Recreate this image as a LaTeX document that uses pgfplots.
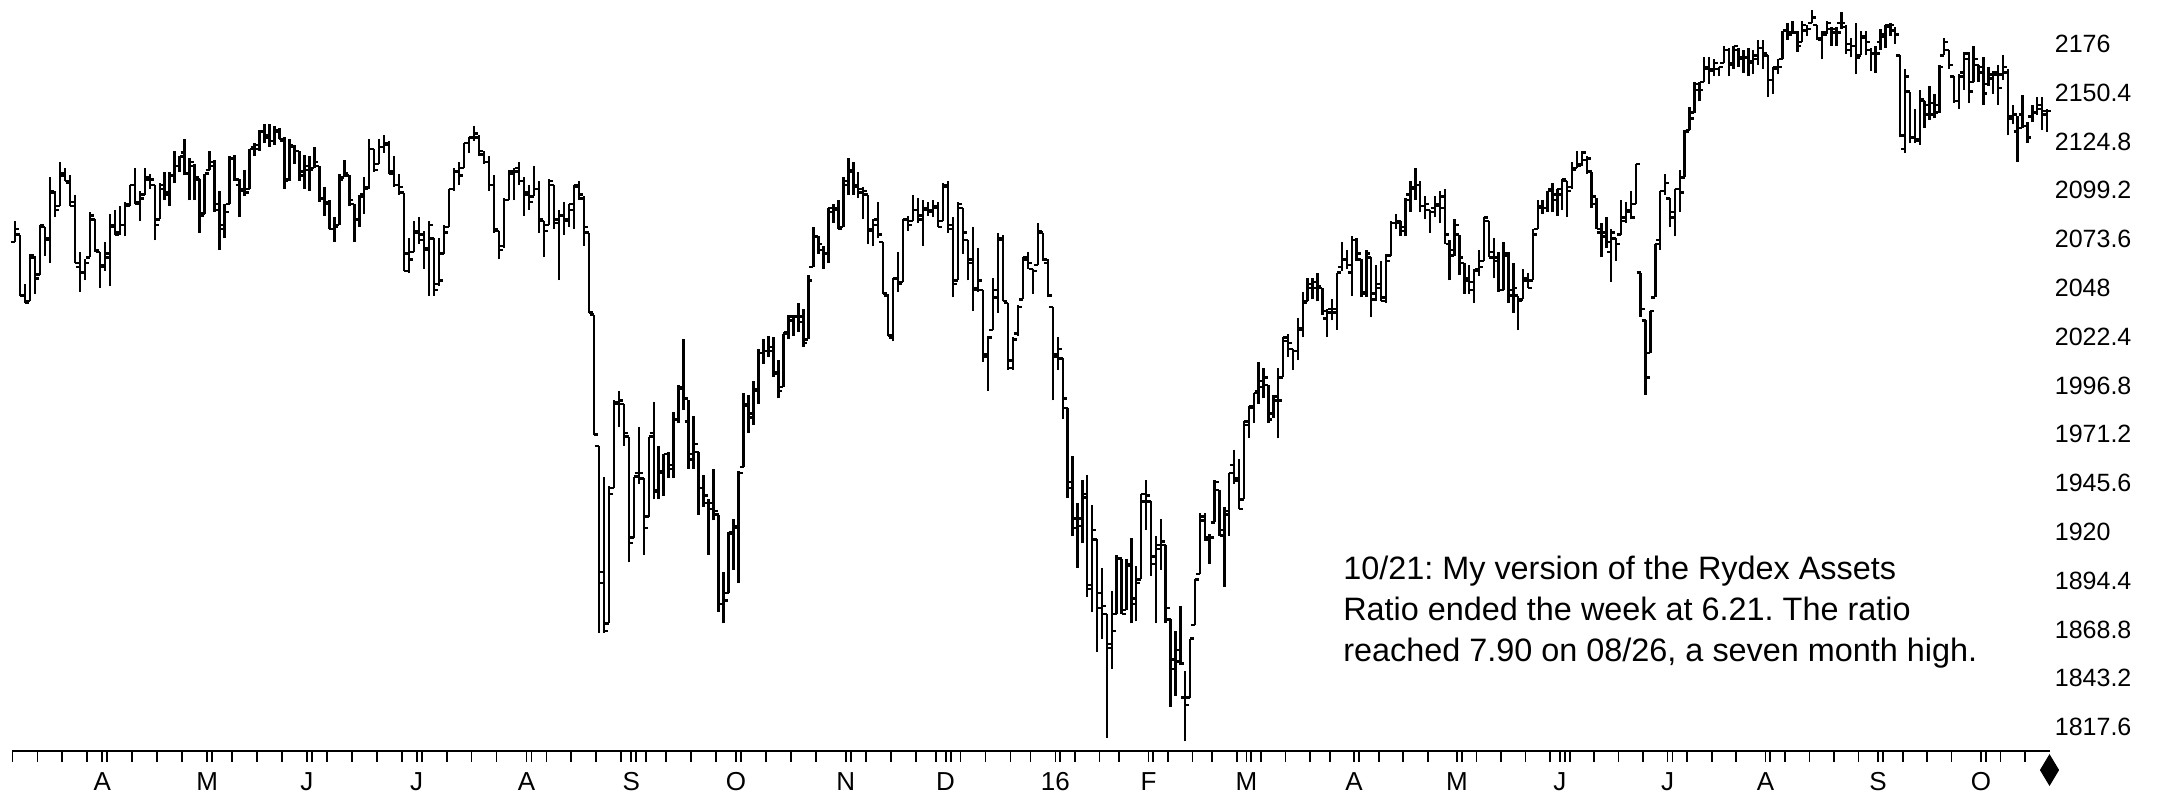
\documentclass[border=0pt]{standalone}
\usepackage{fontspec}
\setmainfont{Liberation Sans}
\usepackage{pgfplots}
\usepackage{pgfplotstable}
\pgfplotsset{compat=1.18}
\frenchspacing
\pgfdeclareplotmark{otick}{\pgfpathmoveto{\pgfqpoint{-2pt}{0pt}}\pgfpathlineto{\pgfqpoint{0pt}{0pt}}\pgfusepathqstroke}
\pgfdeclareplotmark{ctick}{\pgfpathmoveto{\pgfqpoint{0pt}{0pt}}\pgfpathlineto{\pgfqpoint{2pt}{0pt}}\pgfusepathqstroke}
\pgfdeclareplotmark{tdiam}{\pgfpathmoveto{\pgfqpoint{0pt}{7.5pt}}\pgfpathlineto{\pgfqpoint{4.5pt}{0pt}}\pgfpathlineto{\pgfqpoint{0pt}{-7.5pt}}\pgfpathlineto{\pgfqpoint{-4.5pt}{0pt}}\pgfpathclose\pgfusepathqfillstroke}
% S&P 500 daily bars, 2015-03-09 .. 2016-10-21 : open high low close
\pgfplotstableread{
o h l c
2072 2083 2072 2079
2076 2076 2044 2044
2044 2050 2040 2040
2041 2066 2041 2065
2064 2065 2045 2053
2055 2081 2055 2081
2080 2080 2065 2074
2073 2106 2061 2099
2098 2099 2085 2089
2091 2114 2091 2108
2107 2111 2104 2104
2103 2107 2091 2091
2093 2097 2061 2061
2059 2067 2046 2056
2056 2063 2052 2061
2064 2088 2064 2086
2084 2084 2067 2068
2067 2067 2048 2059
2060 2072 2057 2066
2064 2087 2049 2080
2081 2089 2076 2076
2077 2091 2076 2081
2081 2093 2075 2092
2091 2102 2091 2102
2102 2111 2092 2092
2093 2099 2083 2095
2097 2111 2097 2106
2105 2108 2100 2105
2102 2102 2073 2081
2084 2103 2084 2100
2102 2109 2094 2097
2098 2109 2091 2107
2107 2120 2103 2112
2112 2117 2109 2117
2119 2126 2107 2108
2108 2116 2094 2114
2112 2113 2094 2106
2105 2105 2077 2086
2087 2108 2087 2108
2110 2120 2110 2114
2112 2115 2088 2089
2092 2099 2068 2081
2079 2092 2074 2088
2092 2117 2092 2116
2116 2118 2104 2105
2102 2105 2085 2099
2100 2110 2096 2098
2100 2121 2100 2121
2122 2124 2117 2123
2121 2131 2120 2130
2130 2134 2124 2127
2128 2134 2122 2125
2125 2133 2123 2131
2130 2132 2126 2126
2125 2127 2100 2104
2105 2126 2104 2123
2122 2123 2113 2120
2120 2120 2104 2107
2109 2118 2100 2112
2110 2117 2099 2110
2111 2122 2111 2114
2112 2112 2093 2095
2095 2101 2086 2092
2093 2094 2079 2079
2079 2085 2072 2080
2081 2108 2081 2105
2106 2115 2106 2108
2107 2107 2091 2094
2092 2092 2072 2084
2084 2097 2080 2096
2097 2106 2087 2100
2101 2126 2100 2121
2121 2121 2109 2110
2113 2126 2113 2122
2122 2128 2119 2124
2123 2125 2108 2108
2109 2117 2101 2102
2102 2108 2097 2101
2098 2098 2057 2057
2066 2074 2056 2063
2067 2083 2067 2077
2078 2085 2071 2076
2073 2078 2058 2068
2069 2083 2044 2081
2074 2074 2044 2047
2050 2074 2049 2052
2066 2081 2066 2077
2080 2100 2080 2100
2100 2111 2099 2109
2109 2114 2102 2107
2111 2124 2111 2124
2124 2127 2119 2127
2127 2133 2125 2129
2127 2128 2117 2120
2118 2120 2113 2114
2114 2117 2099 2102
2102 2107 2077 2079
2078 2078 2063 2068
2070 2095 2069 2094
2094 2110 2094 2109
2108 2111 2094 2109
2111 2114 2102 2104
2104 2106 2086 2098
2097 2102 2089 2093
2096 2112 2096 2100
2100 2104 2077 2084
2083 2083 2064 2078
2081 2105 2081 2104
2102 2102 2079 2084
2082 2089 2052 2086
2086 2093 2076 2084
2083 2092 2080 2092
2089 2102 2079 2102
2101 2104 2094 2097
2095 2096 2070 2080
2077 2077 2035 2035
2034 2034 1971 1971
1965 1965 1867 1893
1899 1949 1867 1868
1872 1944 1872 1940
1943 1989 1943 1988
1987 1994 1975 1989
1987 1987 1965 1972
1970 1970 1904 1914
1917 1949 1917 1949
1951 1975 1945 1951
1948 1948 1908 1922
1928 1970 1928 1970
1972 1988 1937 1942
1941 1965 1937 1952
1951 1961 1939 1961
1961 1962 1948 1953
1955 1983 1948 1979
1979 1997 1977 1996
1995 2021 1984 1990
1978 1989 1953 1958
1961 1981 1953 1966
1962 1962 1929 1943
1943 1950 1933 1939
1935 1937 1908 1932
1935 1953 1926 1931
1929 1929 1878 1882
1882 1899 1872 1884
1888 1920 1888 1920
1919 1927 1900 1923
1922 1952 1893 1951
1954 1993 1954 1987
1986 1992 1972 1980
1982 1999 1976 1995
1994 2016 1987 2014
2014 2021 2008 2015
2015 2023 2012 2017
2015 2022 2001 2003
2004 2010 1990 1994
1996 2024 1996 2024
2025 2034 2021 2033
2031 2034 2023 2033
2033 2040 2025 2030
2033 2037 2017 2019
2021 2055 2021 2052
2059 2080 2059 2075
2075 2075 2066 2071
2068 2070 2058 2066
2066 2090 2061 2090
2088 2092 2082 2089
2090 2094 2079 2079
2080 2106 2080 2104
2102 2116 2097 2109
2110 2114 2097 2102
2101 2109 2095 2100
2098 2101 2084 2099
2097 2097 2071 2079
2078 2084 2070 2081
2084 2093 2074 2076
2072 2072 2045 2045
2044 2045 2023 2023
2022 2053 2020 2053
2053 2067 2046 2050
2051 2084 2051 2084
2084 2086 2078 2081
2083 2097 2083 2089
2089 2095 2082 2086
2084 2094 2070 2089
2090 2093 2086 2088
2089 2094 2085 2090
2091 2093 2080 2080
2083 2103 2083 2102
2101 2104 2077 2079
2081 2085 2043 2050
2052 2093 2052 2092
2090 2090 2066 2077
2073 2073 2052 2063
2061 2080 2036 2047
2048 2069 2046 2052
2047 2047 2009 2012
2013 2023 1994 2022
2026 2053 2026 2043
2047 2077 2035 2073
2074 2076 2041 2041
2040 2040 2005 2006
2010 2022 2005 2021
2024 2039 2023 2038
2042 2064 2042 2064
2063 2067 2058 2061
2058 2058 2045 2057
2060 2082 2060 2078
2077 2077 2062 2063
2061 2063 2043 2044
2038 2038 1989 2012
2013 2022 2005 2016
2011 2011 1979 1990
1985 1985 1938 1943
1946 1960 1918 1922
1927 1935 1901 1923
1927 1947 1914 1938
1940 1950 1886 1890
1892 1934 1878 1921
1916 1916 1857 1880
1888 1901 1864 1881
1877 1877 1812 1859
1861 1889 1848 1868
1877 1908 1877 1906
1906 1906 1877 1877
1879 1906 1879 1903
1902 1917 1872 1882
1885 1902 1873 1893
1895 1940 1895 1940
1936 1947 1921 1939
1936 1936 1897 1903
1907 1918 1872 1913
1911 1927 1900 1915
1913 1913 1872 1880
1874 1874 1828 1853
1848 1868 1834 1852
1858 1881 1850 1851
1833 1847 1810 1829
1833 1864 1833 1864
1871 1895 1871 1895
1898 1930 1898 1926
1928 1930 1915 1917
1916 1919 1903 1917
1925 1947 1925 1946
1942 1942 1918 1921
1918 1933 1891 1929
1931 1951 1918 1951
1955 1963 1945 1948
1947 1958 1932 1932
1937 1978 1937 1978
1976 1986 1969 1986
1985 1993 1977 1993
1994 2009 1987 1999
1996 2006 1990 2001
1997 1997 1977 1979
1982 1992 1980 1989
1991 2006 1969 1989
2001 2022 2001 2022
2020 2024 2012 2019
2016 2016 2005 2015
2015 2032 2010 2027
2026 2046 2022 2040
2041 2053 2041 2050
2048 2053 2042 2051
2048 2056 2041 2049
2048 2048 2034 2036
2032 2037 2022 2035
2037 2042 2031 2037
2035 2056 2026 2056
2059 2072 2057 2063
2063 2068 2058 2060
2056 2075 2044 2073
2073 2074 2062 2066
2063 2063 2043 2045
2046 2068 2043 2066
2064 2064 2033 2042
2045 2060 2041 2048
2050 2062 2041 2041
2043 2066 2040 2062
2065 2083 2065 2082
2082 2087 2079 2082
2083 2083 2075 2080
2078 2095 2075 2094
2097 2104 2088 2101
2100 2111 2094 2102
2102 2104 2088 2091
2091 2096 2084 2092
2089 2089 2077 2088
2090 2096 2085 2091
2092 2099 2082 2096
2090 2100 2071 2076
2071 2073 2052 2065
2068 2084 2065 2081
2076 2076 2055 2064
2061 2061 2045 2052
2053 2060 2045 2051
2047 2058 2040 2057
2058 2068 2054 2059
2062 2085 2062 2085
2083 2083 2064 2064
2067 2074 2053 2064
2062 2067 2046 2047
2047 2072 2047 2066
2065 2067 2040 2047
2044 2061 2035 2048
2044 2044 2026 2041
2042 2058 2042 2052
2053 2056 2048 2048
2052 2079 2052 2076
2079 2094 2079 2090
2091 2094 2087 2090
2090 2099 2088 2099
2100 2103 2088 2097
2094 2100 2086 2100
2097 2105 2089 2105
2104 2104 2085 2099
2101 2114 2100 2110
2111 2120 2111 2112
2113 2120 2112 2119
2115 2117 2108 2116
2109 2109 2090 2096
2092 2095 2079 2079
2077 2082 2064 2075
2077 2085 2069 2072
2067 2079 2051 2077
2074 2074 2062 2071
2076 2094 2076 2083
2085 2093 2082 2088
2089 2099 2084 2085
2092 2113 2092 2113
2056 2056 2033 2037
2031 2031 1992 2001
2014 2036 2014 2036
2043 2071 2043 2071
2073 2099 2068 2099
2099 2108 2097 2103
2095 2095 2080 2088
2085 2100 2075 2100
2100 2110 2088 2098
2106 2131 2106 2130
2131 2143 2131 2137
2140 2156 2140 2152
2155 2156 2146 2152
2156 2169 2156 2163
2164 2169 2155 2162
2163 2168 2159 2166
2163 2164 2159 2164
2166 2175 2166 2173
2173 2174 2159 2165
2166 2175 2163 2175
2173 2174 2164 2169
2168 2173 2161 2169
2169 2174 2159 2167
2166 2173 2160 2170
2168 2178 2165 2174
2174 2178 2163 2171
2170 2170 2148 2157
2157 2164 2150 2164
2163 2168 2160 2164
2168 2183 2168 2183
2183 2187 2178 2181
2182 2188 2181 2182
2182 2183 2172 2175
2177 2188 2177 2186
2183 2186 2180 2184
2187 2194 2187 2190
2186 2186 2178 2179
2178 2183 2168 2182
2181 2188 2181 2187
2184 2185 2175 2184
2182 2185 2175 2182
2187 2193 2184 2187
2185 2186 2171 2176
2173 2179 2169 2175
2175 2187 2160 2169
2170 2183 2170 2180
2179 2183 2170 2177
2173 2174 2162 2171
2171 2175 2161 2171
2177 2184 2173 2180
2181 2186 2174 2186
2185 2187 2180 2186
2183 2185 2176 2181
2170 2170 2127 2128
2121 2163 2119 2159
2151 2151 2124 2127
2127 2142 2124 2126
2125 2152 2123 2147
2146 2146 2132 2139
2144 2154 2136 2139
2145 2150 2137 2140
2144 2165 2140 2164
2170 2179 2170 2177
2173 2173 2163 2165
2159 2159 2145 2146
2146 2160 2142 2159
2161 2172 2152 2171
2168 2172 2145 2151
2156 2175 2156 2168
2165 2165 2156 2161
2164 2169 2144 2150
2155 2164 2154 2160
2158 2162 2150 2160
2161 2165 2144 2153
2160 2170 2157 2164
2161 2163 2128 2137
2138 2144 2134 2139
2130 2138 2114 2132
2139 2149 2132 2133
2133 2135 2124 2127
2138 2144 2135 2140
2140 2148 2139 2144
2142 2148 2131 2141
2139 2142 2130 2141
}\spx
\begin{document}
\begin{tikzpicture}
\begin{axis}[name=ax, at={(0,0)}, anchor=south west,
  scale only axis, width=1018.75pt, height=375.5pt,
  x coord trafo/.code={\pgfmathparse{((#1)<208)?(15+4.99*(#1)):(1053+4.897*((#1)-208))}},
  x coord inv trafo/.code={\pgfmathparse{((#1)<1053)?(((#1)-15)/4.99):(208+((#1)-1053)/4.897)}},
  xmin=-0.6, xmax=411.5, ymin=1805, ymax=2199.1,
  clip=false,
  axis x line*=bottom, axis y line*=right,
  x axis line style={line width=1.2pt, black},
  y axis line style={draw=none},
  tick align=outside,
  major tick length=5.5pt, minor tick length=5.5pt,
  xtick={17.5,38.5,58.5,80.5,102.5,123.5,144.5,166.5,186.5,208.5,227.5,247.5,269.5,290.5,311.5,333.5,353.5,376.5,397.5},
  xticklabels={A,M,J,J,A,S,O,N,D,16,F,M,A,M,J,J,A,S,O},
  extra x ticks={18.5,39.5,59.5,81.5,103.5,124.5,145.5,167.5,187.5,209.5,228.5,248.5,270.5,291.5,312.5,334.5,354.5,377.5,398.5},
  extra x tick labels={},
  extra x tick style={xtick style={line width=0.9pt, black}},
  minor xtick={-0.5,4.5,9.5,14.5,18.5,23.5,28.5,33.5,38.5,43.5,48.5,53.5,62.5,67.5,72.5,77.5,81.5,86.5,91.5,96.5,106.5,111.5,116.5,121.5,126.5,130.5,135.5,140.5,145.5,150.5,155.5,160.5,170.5,175.5,180.5,184.5,189.5,194.5,199.5,203.5,212.5,217.5,221.5,231.5,236.5,240.5,245.5,250.5,255.5,260.5,264.5,269.5,274.5,279.5,284.5,294.5,299.5,304.5,309.5,313.5,318.5,323.5,328.5,333.5,337.5,342.5,347.5,357.5,362.5,367.5,372.5,377.5,381.5,386.5,391.5,401.5,406.5},
  xtick style={line width=0.9pt, black},
  minor x tick style={line width=0.9pt, black},
  xticklabel style={font=\fontsize{13}{14}\selectfont, inner sep=0pt, anchor=north, yshift=-5pt},
  ytick={1817.6,1843.2,1868.8,1894.4,1920,1945.6,1971.2,1996.8,2022.4,2048,2073.6,2099.2,2124.8,2150.4,2176},
  yticklabels={1817.6,1843.2,1868.8,1894.4,1920,1945.6,1971.2,1996.8,2022.4,2048,2073.6,2099.2,2124.8,2150.4,2176},
  ytick style={draw=none},
  yticklabel style={font=\fontsize{12.5}{14}\selectfont, inner sep=0pt, anchor=west, xshift=-3pt},
]
\addplot[black, line width=1.2pt, quiver={u=0, v=\thisrow{h}-\thisrow{l}}] table[x expr=\coordindex, y=l] {\spx};
\addplot[black, line width=1.2pt, only marks, mark=otick] table[x expr=\coordindex, y=o] {\spx};
\addplot[black, line width=1.2pt, only marks, mark=ctick] table[x expr=\coordindex, y=c] {\spx};
\addplot[black, only marks, mark=tdiam, mark options={fill=black, line width=0.5pt}] coordinates {(411.5,1795)};
\node[anchor=north west, align=left, inner sep=0pt, font=\fontsize{16.2}{20.5}\selectfont] at (axis cs:267.2,1907.5)
  {10/21: My version of the Rydex Assets\\Ratio ended the week at 6.21. The ratio\\reached 7.90 on 08/26, a seven month high.};
\end{axis}
\useasboundingbox ([xshift=-6pt,yshift=-20.5pt]ax.south west) rectangle ([xshift=58.75pt]ax.north east);
\end{tikzpicture}
\end{document}
